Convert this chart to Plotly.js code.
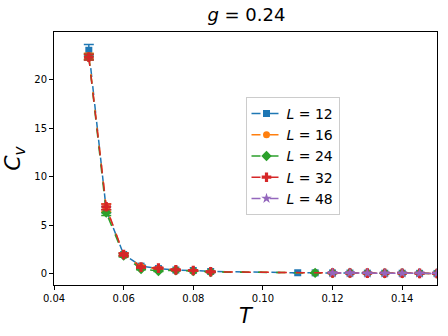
<!DOCTYPE html>
<html>
<head>
<meta charset="utf-8">
<script src="https://cdn.plot.ly/plotly-3.0.1.min.js"></script>
<style>
  html, body { margin: 0; padding: 0; background: #fff; }
  #plot { width: 448px; height: 336px; }
</style>
</head>
<body>
<div id="plot"></div>
<script>
// temperatures
const tempL12 = [0.05, 0.055, 0.06, 0.065, 0.07, 0.075, 0.08, 0.085, 0.11, 0.115, 0.12, 0.125, 0.13, 0.135, 0.14, 0.145, 0.15];
const tempL16 = [0.05, 0.055, 0.06, 0.065, 0.07, 0.075, 0.08, 0.085, 0.115, 0.12, 0.125, 0.13, 0.135, 0.14, 0.145, 0.15];
const tempL24 = [0.05, 0.055, 0.06, 0.065, 0.07, 0.075, 0.08, 0.085, 0.115, 0.12, 0.125, 0.13, 0.135, 0.14, 0.145, 0.15];
const tempL32 = [0.05, 0.055, 0.06, 0.065, 0.07, 0.075, 0.08, 0.085, 0.12, 0.125, 0.13, 0.135, 0.14, 0.145, 0.15];
const tempL48 = [0.12, 0.125, 0.13, 0.135, 0.14, 0.145, 0.15];

// specific heat and errors
const cvL12 = [23.0, 6.6, 2.0, 0.8, 0.55, 0.4, 0.35, 0.25, 0.12, 0.11, 0.1, 0.09, 0.08, 0.07, 0.07, 0.06, 0.05];
const errL12 = [0.6, 0.3, 0.15, 0.08, 0.05, 0.04, 0.03, 0.02, 0.01, 0.01, 0.01, 0.01, 0.01, 0.01, 0.01, 0.01, 0.01];
const cvL16 = [22.4, 6.8, 2.0, 0.75, 0.5, 0.4, 0.3, 0.22, 0.11, 0.1, 0.09, 0.08, 0.07, 0.07, 0.06, 0.05];
const errL16 = [0.3, 0.4, 0.15, 0.08, 0.05, 0.04, 0.03, 0.02, 0.01, 0.01, 0.01, 0.01, 0.01, 0.01, 0.01, 0.01];
const cvL24 = [22.3, 6.3, 1.9, 0.5, 0.3, 0.38, 0.3, 0.2, 0.11, 0.1, 0.09, 0.08, 0.07, 0.07, 0.06, 0.05];
const errL24 = [0.3, 0.3, 0.15, 0.08, 0.05, 0.04, 0.03, 0.02, 0.01, 0.01, 0.01, 0.01, 0.01, 0.01, 0.01, 0.01];
const cvL32 = [22.3, 6.9, 2.0, 0.7, 0.6, 0.42, 0.35, 0.22, 0.1, 0.09, 0.08, 0.07, 0.07, 0.06, 0.05];
const errL32 = [0.3, 0.3, 0.15, 0.08, 0.05, 0.04, 0.03, 0.02, 0.01, 0.01, 0.01, 0.01, 0.01, 0.01, 0.01];
const cvL48 = [0.1, 0.09, 0.08, 0.07, 0.07, 0.06, 0.05];
const errL48 = [0.01, 0.01, 0.01, 0.01, 0.01, 0.01, 0.01];

const xTicks = [0.04, 0.06, 0.08, 0.10, 0.12, 0.14];
const xTickText = ["0.04", "0.06", "0.08", "0.10", "0.12", "0.14"];
const yTicks = [0, 5, 10, 15, 20];

function makeTrace(x, y, err, name, color, symbol, size) {
  return {
    x: x,
    y: y,
    error_y: { type: "data", array: err, visible: true, color: color, thickness: 1.5, width: 5 },
    type: "scatter",
    mode: "lines+markers",
    name: name,
    line: { color: color, dash: "dash", width: 1.5 },
    marker: { color: color, symbol: symbol, size: size },
    hoverinfo: "skip",
  };
}

const traces = [
  makeTrace(tempL12, cvL12, errL12, "<i>L</i> = 12", "#1f77b4", "square", 7),
  makeTrace(tempL16, cvL16, errL16, "<i>L</i> = 16", "#ff7f0e", "circle", 7),
  makeTrace(tempL24, cvL24, errL24, "<i>L</i> = 24", "#2ca02c", "diamond", 8),
  makeTrace(tempL32, cvL32, errL32, "<i>L</i> = 32", "#d62728", "cross", 8),
  makeTrace(tempL48, cvL48, errL48, "<i>L</i> = 48", "#9467bd", "star", 8),
];

const layout = {
  width: 448,
  height: 336,
  margin: { l: 54, r: 11, t: 32, b: 51 },
  paper_bgcolor: "#fff",
  plot_bgcolor: "#fff",
  font: { family: "DejaVu Sans", color: "#000" },
  title: {
    text: "<i>g</i> = 0.24",
    font: { size: 18, family: "DejaVu Sans" },
    x: 0.55,
    xanchor: "center",
    y: 0.955,
    yanchor: "middle",
  },
  xaxis: {
    range: [0.04, 0.15],
    tickvals: xTicks,
    ticktext: xTickText,
    ticks: "outside",
    ticklen: 4,
    tickcolor: "#000",
    tickfont: { size: 10 },
    showline: true,
    mirror: true,
    linecolor: "#000",
    linewidth: 1,
    showgrid: false,
    zeroline: false,
    title: { text: "<i>T</i>", font: { size: 21 }, standoff: 4 },
  },
  yaxis: {
    range: [-1.14, 24.88],
    tickvals: yTicks,
    ticks: "outside",
    ticklen: 4,
    tickcolor: "#000",
    tickfont: { size: 10 },
    showline: true,
    mirror: true,
    linecolor: "#000",
    linewidth: 1,
    showgrid: false,
    zeroline: false,
    title: { text: "<i>C<sub>v</sub></i>", font: { size: 22 }, standoff: 8 },
  },
  legend: {
    x: 0.5,
    xanchor: "left",
    y: 0.743,
    yanchor: "top",
    bgcolor: "rgba(255,255,255,0.8)",
    bordercolor: "#ccc",
    borderwidth: 1,
    font: { size: 14 },
    tracegroupgap: 0,
    itemwidth: 30,
  },
  showlegend: true,
};

Plotly.newPlot("plot", traces, layout, { displayModeBar: false, staticPlot: true });
</script>
</body>
</html>
